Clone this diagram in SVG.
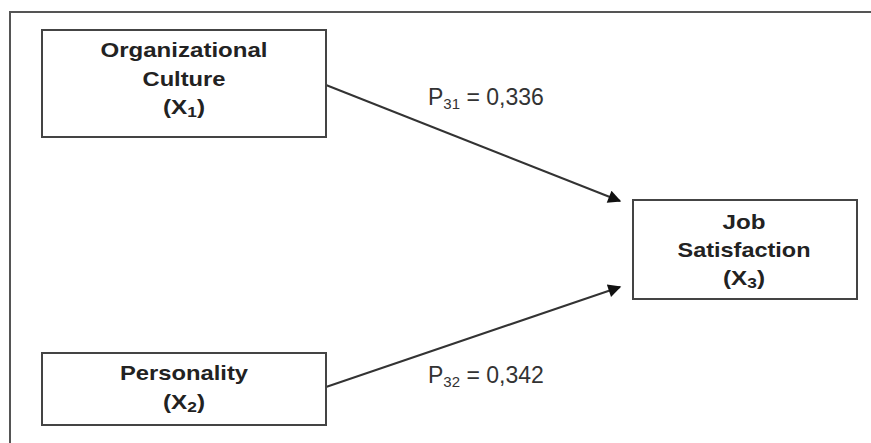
<svg xmlns="http://www.w3.org/2000/svg" width="871" height="443" viewBox="0 0 871 443">
<style>
.box{fill:#fff;stroke:#444;stroke-width:2}
.bt{font-family:"Liberation Sans",Arial,sans-serif;font-weight:bold;font-size:21px;fill:#222;text-anchor:middle}
.lt{font-family:"Liberation Sans",Arial,sans-serif;font-size:23px;fill:#333}
.sub{font-size:15px}
.edge{stroke:#333;stroke-width:2;fill:none}
</style>
<defs>
<marker id="ah2" viewBox="0 0 10 10" refX="9" refY="5" markerWidth="16" markerHeight="13" markerUnits="userSpaceOnUse" orient="auto">
<path d="M0,0 L10,5 L0,10 z" fill="#111"/>
</marker>
</defs>
<rect width="871" height="443" fill="#fff"/>
<path d="M10,445 L10,12 L875,12" fill="none" stroke="#555" stroke-width="2"/>
<g id="connectors">
<line class="edge" x1="326" y1="85" x2="620" y2="201" marker-end="url(#ah2)"/>
<line class="edge" x1="326" y1="387" x2="620" y2="287" marker-end="url(#ah2)"/>
<text class="lt" x="428" y="105">P<tspan class="sub" dy="4">31</tspan><tspan dy="-4"> = 0,336</tspan></text>
<text class="lt" x="428" y="383">P<tspan class="sub" dy="4">32</tspan><tspan dy="-4"> = 0,342</tspan></text>
</g>
<g id="x1">
<rect class="box" x="42" y="30" width="284" height="107"/>
<text class="bt" x="184" y="57" textLength="167" lengthAdjust="spacingAndGlyphs">Organizational</text>
<text class="bt" x="184" y="86" textLength="83" lengthAdjust="spacingAndGlyphs">Culture</text>
<text class="bt" x="184" y="114" textLength="42" lengthAdjust="spacingAndGlyphs">(X<tspan class="sub" dy="3">1</tspan><tspan dy="-3">)</tspan></text>
</g>
<g id="x2">
<rect class="box" x="42" y="353" width="284" height="72"/>
<text class="bt" x="184" y="380" textLength="128" lengthAdjust="spacingAndGlyphs">Personality</text>
<text class="bt" x="184" y="409" textLength="42" lengthAdjust="spacingAndGlyphs">(X<tspan class="sub" dy="3">2</tspan><tspan dy="-3">)</tspan></text>
</g>
<g id="x3">
<rect class="box" x="633" y="200" width="224" height="99"/>
<text class="bt" x="744" y="229" textLength="43" lengthAdjust="spacingAndGlyphs">Job</text>
<text class="bt" x="744" y="257" textLength="133" lengthAdjust="spacingAndGlyphs">Satisfaction</text>
<text class="bt" x="744" y="285" textLength="42" lengthAdjust="spacingAndGlyphs">(X<tspan class="sub" dy="3">3</tspan><tspan dy="-3">)</tspan></text>
</g>
</svg>
